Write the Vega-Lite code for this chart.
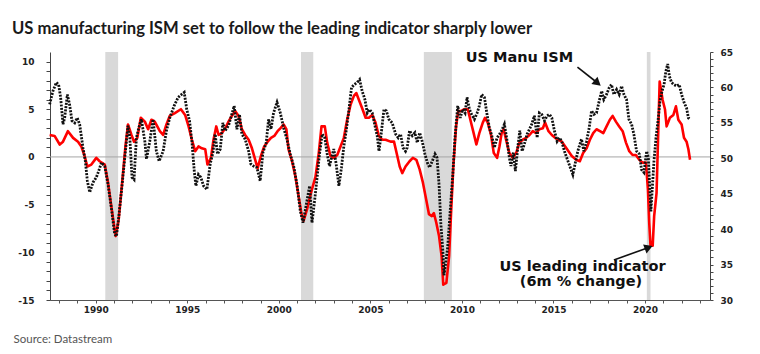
{
  "$schema": "https://vega.github.io/schema/vega-lite/v6.json",
  "width": 660,
  "height": 248,
  "autosize": {"type": "none"},
  "padding": {"left": 50, "top": 52, "right": 50, "bottom": 54},
  "background": "white",
  "title": {
    "text": "US manufacturing ISM set to follow the leading indicator sharply lower",
    "anchor": "start", "frame": "group", "dx": -38, "offset": -3, "baseline": "alphabetic",
    "font": "Lato", "fontSize": 16.6, "fontWeight": "bold", "color": "#1a1a1a"
  },
  "config": {
    "view": {"stroke": null},
    "axis": {"labelOverlap": false, "labelBound": false, "labelFlush": false, "grid": false}
  },
  "datasets": {
    "bands": [
      {"t": 1990.52, "t2": 1991.22},
      {"t": 2001.21, "t2": 2001.88},
      {"t": 2007.92, "t2": 2009.45},
      {"t": 2020.1, "t2": 2020.3}
    ],
    "zero": [{"v": 0}],
    "lei": [
      {"t": 1987.48, "v": 2.3}, {"t": 1987.75, "v": 2.2}, {"t": 1988.03, "v": 1.3}, {"t": 1988.21, "v": 1.6},
      {"t": 1988.48, "v": 2.7}, {"t": 1988.76, "v": 2.0}, {"t": 1989.03, "v": 1.6}, {"t": 1989.21, "v": 1.1},
      {"t": 1989.39, "v": 0.1}, {"t": 1989.54, "v": -1.0}, {"t": 1989.76, "v": -0.8}, {"t": 1990.03, "v": -0.1},
      {"t": 1990.21, "v": -0.45}, {"t": 1990.49, "v": -0.8}, {"t": 1990.67, "v": -2.7}, {"t": 1990.85, "v": -5.2},
      {"t": 1991.03, "v": -7.6}, {"t": 1991.09, "v": -8.3}, {"t": 1991.25, "v": -6.6}, {"t": 1991.44, "v": -2.7},
      {"t": 1991.62, "v": 1.1}, {"t": 1991.76, "v": 3.4}, {"t": 1991.95, "v": 2.3}, {"t": 1992.09, "v": 1.6},
      {"t": 1992.27, "v": 2.0}, {"t": 1992.46, "v": 4.1}, {"t": 1992.68, "v": 3.7}, {"t": 1992.86, "v": 2.9},
      {"t": 1993.04, "v": 3.9}, {"t": 1993.22, "v": 3.7}, {"t": 1993.5, "v": 2.7}, {"t": 1993.68, "v": 2.3},
      {"t": 1993.86, "v": 3.4}, {"t": 1994.04, "v": 4.3}, {"t": 1994.32, "v": 4.6}, {"t": 1994.65, "v": 5.0},
      {"t": 1994.88, "v": 4.4}, {"t": 1995.07, "v": 3.2}, {"t": 1995.25, "v": 1.8}, {"t": 1995.43, "v": 0.6},
      {"t": 1995.61, "v": 1.1}, {"t": 1995.79, "v": 0.9}, {"t": 1995.98, "v": 0.8}, {"t": 1996.1, "v": -0.8},
      {"t": 1996.29, "v": -0.1}, {"t": 1996.43, "v": 1.8}, {"t": 1996.58, "v": 3.2}, {"t": 1996.71, "v": 2.3},
      {"t": 1996.89, "v": 2.5}, {"t": 1997.07, "v": 3.0}, {"t": 1997.25, "v": 3.7}, {"t": 1997.43, "v": 4.3},
      {"t": 1997.62, "v": 4.8}, {"t": 1997.8, "v": 4.3}, {"t": 1997.98, "v": 2.9}, {"t": 1998.16, "v": 2.3},
      {"t": 1998.35, "v": 1.8}, {"t": 1998.53, "v": 0.9}, {"t": 1998.71, "v": -0.3}, {"t": 1998.84, "v": -1.2},
      {"t": 1999.02, "v": 0.1}, {"t": 1999.2, "v": 1.1}, {"t": 1999.39, "v": 1.6}, {"t": 1999.57, "v": 2.0},
      {"t": 1999.75, "v": 2.2}, {"t": 1999.93, "v": 2.7}, {"t": 2000.08, "v": 3.0}, {"t": 2000.26, "v": 3.4},
      {"t": 2000.41, "v": 2.9}, {"t": 2000.53, "v": 0.8}, {"t": 2000.72, "v": -0.45}, {"t": 2000.9, "v": -2.0},
      {"t": 2001.08, "v": -4.1}, {"t": 2001.23, "v": -5.9}, {"t": 2001.35, "v": -6.7}, {"t": 2001.54, "v": -5.5},
      {"t": 2001.75, "v": -3.8}, {"t": 2002.0, "v": -2.1}, {"t": 2002.18, "v": 0.4}, {"t": 2002.33, "v": 3.2},
      {"t": 2002.51, "v": 3.2}, {"t": 2002.64, "v": 1.5}, {"t": 2002.82, "v": 0.1}, {"t": 2003.0, "v": -0.1},
      {"t": 2003.19, "v": 0.2}, {"t": 2003.37, "v": 1.1}, {"t": 2003.55, "v": 2.0}, {"t": 2003.73, "v": 3.9},
      {"t": 2003.92, "v": 5.5}, {"t": 2004.1, "v": 6.4}, {"t": 2004.23, "v": 6.7}, {"t": 2004.37, "v": 6.0},
      {"t": 2004.55, "v": 5.1}, {"t": 2004.74, "v": 4.1}, {"t": 2004.92, "v": 4.1}, {"t": 2005.1, "v": 4.4},
      {"t": 2005.28, "v": 3.6}, {"t": 2005.46, "v": 2.2}, {"t": 2005.65, "v": 1.8}, {"t": 2005.83, "v": 1.8},
      {"t": 2006.1, "v": 1.6}, {"t": 2006.29, "v": 1.6}, {"t": 2006.47, "v": 0.1}, {"t": 2006.6, "v": -1.0},
      {"t": 2006.74, "v": -1.7}, {"t": 2006.92, "v": -1.0}, {"t": 2007.14, "v": -0.45}, {"t": 2007.32, "v": -0.1},
      {"t": 2007.51, "v": -0.3}, {"t": 2007.69, "v": -1.3}, {"t": 2007.87, "v": -2.7}, {"t": 2008.05, "v": -4.5},
      {"t": 2008.2, "v": -6.0}, {"t": 2008.34, "v": -6.2}, {"t": 2008.47, "v": -5.9}, {"t": 2008.6, "v": -6.9},
      {"t": 2008.75, "v": -8.3}, {"t": 2008.89, "v": -10.4}, {"t": 2008.98, "v": -13.4}, {"t": 2009.15, "v": -13.2},
      {"t": 2009.3, "v": -10.4}, {"t": 2009.4, "v": -6.2}, {"t": 2009.53, "v": -1.0}, {"t": 2009.68, "v": 3.2},
      {"t": 2009.8, "v": 4.8}, {"t": 2009.95, "v": 4.8}, {"t": 2010.13, "v": 5.0}, {"t": 2010.32, "v": 5.0},
      {"t": 2010.46, "v": 3.9}, {"t": 2010.64, "v": 2.5}, {"t": 2010.79, "v": 1.3}, {"t": 2010.95, "v": 2.5},
      {"t": 2011.14, "v": 3.6}, {"t": 2011.26, "v": 4.1}, {"t": 2011.41, "v": 3.6}, {"t": 2011.59, "v": 2.3},
      {"t": 2011.74, "v": 0.4}, {"t": 2011.92, "v": -0.1}, {"t": 2012.05, "v": 1.1}, {"t": 2012.17, "v": 2.5},
      {"t": 2012.28, "v": 2.9}, {"t": 2012.41, "v": 1.8}, {"t": 2012.59, "v": 0.4}, {"t": 2012.78, "v": -0.1},
      {"t": 2012.96, "v": 0.4}, {"t": 2013.14, "v": 1.5}, {"t": 2013.32, "v": 1.8}, {"t": 2013.51, "v": 2.0},
      {"t": 2013.69, "v": 2.3}, {"t": 2013.87, "v": 2.7}, {"t": 2014.05, "v": 2.5}, {"t": 2014.23, "v": 2.9},
      {"t": 2014.42, "v": 3.0}, {"t": 2014.54, "v": 3.6}, {"t": 2014.73, "v": 2.7}, {"t": 2014.91, "v": 2.3},
      {"t": 2015.09, "v": 2.0}, {"t": 2015.27, "v": 1.8}, {"t": 2015.46, "v": 1.6}, {"t": 2015.64, "v": 1.1},
      {"t": 2015.82, "v": 0.6}, {"t": 2016.0, "v": 0.1}, {"t": 2016.24, "v": -0.3}, {"t": 2016.44, "v": -0.45},
      {"t": 2016.62, "v": 0.4}, {"t": 2016.81, "v": 0.9}, {"t": 2016.99, "v": 1.8}, {"t": 2017.17, "v": 2.5},
      {"t": 2017.35, "v": 2.9}, {"t": 2017.54, "v": 2.7}, {"t": 2017.72, "v": 2.5}, {"t": 2017.9, "v": 3.2},
      {"t": 2018.08, "v": 3.9}, {"t": 2018.23, "v": 4.3}, {"t": 2018.41, "v": 3.7}, {"t": 2018.59, "v": 3.2},
      {"t": 2018.78, "v": 2.7}, {"t": 2018.96, "v": 1.5}, {"t": 2019.14, "v": 0.6}, {"t": 2019.32, "v": 0.2},
      {"t": 2019.5, "v": 0.2}, {"t": 2019.69, "v": -0.3}, {"t": 2019.87, "v": -0.6}, {"t": 2020.05, "v": -0.6},
      {"t": 2020.16, "v": -3.4}, {"t": 2020.23, "v": -6.9}, {"t": 2020.3, "v": -9.3}, {"t": 2020.42, "v": -9.3},
      {"t": 2020.5, "v": -6.2}, {"t": 2020.63, "v": -3.8}, {"t": 2020.8, "v": 7.9}, {"t": 2020.96, "v": 6.0},
      {"t": 2021.09, "v": 5.0}, {"t": 2021.18, "v": 3.2}, {"t": 2021.36, "v": 4.1}, {"t": 2021.55, "v": 4.4},
      {"t": 2021.69, "v": 5.3}, {"t": 2021.82, "v": 3.9}, {"t": 2022.0, "v": 3.4}, {"t": 2022.13, "v": 2.0},
      {"t": 2022.27, "v": 1.6}, {"t": 2022.37, "v": 0.8}, {"t": 2022.46, "v": -0.3}
    ],
    "ism": [
      {"t": 1987.48, "v": 57.6}, {"t": 1987.66, "v": 59.5}, {"t": 1987.85, "v": 60.7}, {"t": 1987.97, "v": 60.4},
      {"t": 1988.08, "v": 58.6}, {"t": 1988.21, "v": 54.8}, {"t": 1988.3, "v": 55.7}, {"t": 1988.45, "v": 59.0},
      {"t": 1988.57, "v": 57.6}, {"t": 1988.7, "v": 55.3}, {"t": 1988.85, "v": 55.0}, {"t": 1988.99, "v": 55.7},
      {"t": 1989.12, "v": 54.8}, {"t": 1989.3, "v": 51.5}, {"t": 1989.43, "v": 49.6}, {"t": 1989.54, "v": 46.8},
      {"t": 1989.67, "v": 45.2}, {"t": 1989.85, "v": 46.6}, {"t": 1990.03, "v": 47.3}, {"t": 1990.16, "v": 48.2},
      {"t": 1990.31, "v": 49.4}, {"t": 1990.49, "v": 48.9}, {"t": 1990.67, "v": 46.3}, {"t": 1990.85, "v": 43.0},
      {"t": 1991.03, "v": 39.3}, {"t": 1991.13, "v": 39.0}, {"t": 1991.25, "v": 41.6}, {"t": 1991.44, "v": 46.3},
      {"t": 1991.62, "v": 51.0}, {"t": 1991.76, "v": 54.6}, {"t": 1991.86, "v": 52.9}, {"t": 1991.98, "v": 47.3},
      {"t": 1992.09, "v": 47.0}, {"t": 1992.22, "v": 52.9}, {"t": 1992.35, "v": 54.3}, {"t": 1992.49, "v": 55.5},
      {"t": 1992.68, "v": 52.4}, {"t": 1992.77, "v": 49.9}, {"t": 1992.95, "v": 52.4}, {"t": 1993.13, "v": 55.5},
      {"t": 1993.31, "v": 51.0}, {"t": 1993.46, "v": 49.6}, {"t": 1993.68, "v": 51.0}, {"t": 1993.86, "v": 53.9},
      {"t": 1994.04, "v": 55.7}, {"t": 1994.28, "v": 57.4}, {"t": 1994.5, "v": 58.6}, {"t": 1994.68, "v": 59.0},
      {"t": 1994.83, "v": 59.3}, {"t": 1994.97, "v": 56.9}, {"t": 1995.12, "v": 55.3}, {"t": 1995.25, "v": 52.4},
      {"t": 1995.38, "v": 48.2}, {"t": 1995.47, "v": 46.1}, {"t": 1995.61, "v": 47.7}, {"t": 1995.74, "v": 47.3},
      {"t": 1995.89, "v": 46.1}, {"t": 1996.07, "v": 45.6}, {"t": 1996.25, "v": 49.2}, {"t": 1996.4, "v": 50.8},
      {"t": 1996.52, "v": 53.4}, {"t": 1996.65, "v": 50.6}, {"t": 1996.8, "v": 51.3}, {"t": 1996.94, "v": 55.0},
      {"t": 1997.07, "v": 53.9}, {"t": 1997.25, "v": 54.6}, {"t": 1997.43, "v": 56.2}, {"t": 1997.56, "v": 57.4},
      {"t": 1997.71, "v": 54.1}, {"t": 1997.85, "v": 56.2}, {"t": 1997.98, "v": 53.4}, {"t": 1998.16, "v": 52.7},
      {"t": 1998.35, "v": 51.0}, {"t": 1998.47, "v": 49.2}, {"t": 1998.62, "v": 48.9}, {"t": 1998.8, "v": 48.7},
      {"t": 1998.98, "v": 46.8}, {"t": 1999.13, "v": 50.8}, {"t": 1999.31, "v": 52.2}, {"t": 1999.44, "v": 55.5},
      {"t": 1999.57, "v": 54.1}, {"t": 1999.71, "v": 56.4}, {"t": 1999.9, "v": 57.9}, {"t": 2000.08, "v": 56.4},
      {"t": 2000.26, "v": 54.3}, {"t": 2000.44, "v": 52.7}, {"t": 2000.62, "v": 50.6}, {"t": 2000.81, "v": 48.9},
      {"t": 2000.99, "v": 46.3}, {"t": 2001.17, "v": 42.6}, {"t": 2001.32, "v": 40.9}, {"t": 2001.5, "v": 43.5},
      {"t": 2001.68, "v": 46.1}, {"t": 2001.81, "v": 40.9}, {"t": 2001.97, "v": 44.4}, {"t": 2002.09, "v": 47.3},
      {"t": 2002.22, "v": 50.6}, {"t": 2002.37, "v": 53.4}, {"t": 2002.51, "v": 52.9}, {"t": 2002.64, "v": 50.6},
      {"t": 2002.77, "v": 48.9}, {"t": 2002.88, "v": 50.1}, {"t": 2003.0, "v": 51.3}, {"t": 2003.13, "v": 49.2},
      {"t": 2003.28, "v": 46.1}, {"t": 2003.42, "v": 48.7}, {"t": 2003.55, "v": 51.7}, {"t": 2003.68, "v": 53.9},
      {"t": 2003.82, "v": 56.7}, {"t": 2003.97, "v": 60.0}, {"t": 2004.12, "v": 60.4}, {"t": 2004.28, "v": 60.7},
      {"t": 2004.41, "v": 61.1}, {"t": 2004.55, "v": 59.5}, {"t": 2004.7, "v": 58.3}, {"t": 2004.83, "v": 56.4},
      {"t": 2004.95, "v": 56.9}, {"t": 2005.1, "v": 56.4}, {"t": 2005.25, "v": 54.6}, {"t": 2005.37, "v": 53.2},
      {"t": 2005.47, "v": 51.0}, {"t": 2005.61, "v": 53.9}, {"t": 2005.74, "v": 56.9}, {"t": 2005.87, "v": 56.7},
      {"t": 2006.01, "v": 55.5}, {"t": 2006.19, "v": 55.0}, {"t": 2006.38, "v": 53.4}, {"t": 2006.52, "v": 52.9},
      {"t": 2006.65, "v": 53.4}, {"t": 2006.78, "v": 51.5}, {"t": 2006.92, "v": 51.0}, {"t": 2007.01, "v": 51.5},
      {"t": 2007.14, "v": 53.9}, {"t": 2007.29, "v": 53.2}, {"t": 2007.43, "v": 53.6}, {"t": 2007.56, "v": 52.2},
      {"t": 2007.69, "v": 53.6}, {"t": 2007.83, "v": 52.4}, {"t": 2007.98, "v": 50.6}, {"t": 2008.11, "v": 49.4},
      {"t": 2008.23, "v": 48.7}, {"t": 2008.38, "v": 49.6}, {"t": 2008.53, "v": 50.6}, {"t": 2008.64, "v": 50.1},
      {"t": 2008.75, "v": 46.3}, {"t": 2008.85, "v": 40.7}, {"t": 2008.96, "v": 36.9}, {"t": 2009.02, "v": 33.5},
      {"t": 2009.1, "v": 35.0}, {"t": 2009.22, "v": 37.4}, {"t": 2009.37, "v": 43.0}, {"t": 2009.5, "v": 47.7},
      {"t": 2009.62, "v": 52.9}, {"t": 2009.77, "v": 57.4}, {"t": 2009.91, "v": 55.7}, {"t": 2010.04, "v": 56.9},
      {"t": 2010.17, "v": 56.4}, {"t": 2010.28, "v": 58.6}, {"t": 2010.41, "v": 56.9}, {"t": 2010.53, "v": 56.2},
      {"t": 2010.68, "v": 55.5}, {"t": 2010.83, "v": 56.4}, {"t": 2010.95, "v": 57.4}, {"t": 2011.08, "v": 59.0},
      {"t": 2011.23, "v": 58.6}, {"t": 2011.37, "v": 56.2}, {"t": 2011.5, "v": 54.3}, {"t": 2011.63, "v": 53.2},
      {"t": 2011.77, "v": 51.5}, {"t": 2011.92, "v": 52.9}, {"t": 2012.05, "v": 53.4}, {"t": 2012.17, "v": 53.9},
      {"t": 2012.32, "v": 54.8}, {"t": 2012.47, "v": 52.4}, {"t": 2012.59, "v": 50.1}, {"t": 2012.68, "v": 48.9},
      {"t": 2012.81, "v": 50.8}, {"t": 2012.92, "v": 48.2}, {"t": 2013.05, "v": 51.5}, {"t": 2013.16, "v": 53.9},
      {"t": 2013.29, "v": 51.0}, {"t": 2013.41, "v": 52.0}, {"t": 2013.56, "v": 53.4}, {"t": 2013.69, "v": 54.1},
      {"t": 2013.81, "v": 54.8}, {"t": 2013.96, "v": 56.0}, {"t": 2014.11, "v": 52.9}, {"t": 2014.23, "v": 56.4},
      {"t": 2014.36, "v": 56.2}, {"t": 2014.51, "v": 55.3}, {"t": 2014.65, "v": 56.0}, {"t": 2014.78, "v": 56.2},
      {"t": 2014.91, "v": 55.7}, {"t": 2015.05, "v": 53.9}, {"t": 2015.2, "v": 52.4}, {"t": 2015.33, "v": 52.9},
      {"t": 2015.45, "v": 52.4}, {"t": 2015.6, "v": 51.0}, {"t": 2015.75, "v": 49.9}, {"t": 2015.89, "v": 48.9},
      {"t": 2016.06, "v": 47.7}, {"t": 2016.18, "v": 49.2}, {"t": 2016.33, "v": 51.0}, {"t": 2016.41, "v": 51.7},
      {"t": 2016.53, "v": 52.7}, {"t": 2016.66, "v": 51.0}, {"t": 2016.81, "v": 52.4}, {"t": 2016.95, "v": 54.3},
      {"t": 2017.08, "v": 56.7}, {"t": 2017.21, "v": 56.2}, {"t": 2017.35, "v": 56.4}, {"t": 2017.5, "v": 58.1},
      {"t": 2017.63, "v": 59.5}, {"t": 2017.75, "v": 58.3}, {"t": 2017.9, "v": 59.0}, {"t": 2018.05, "v": 60.0},
      {"t": 2018.17, "v": 60.4}, {"t": 2018.3, "v": 59.0}, {"t": 2018.45, "v": 59.7}, {"t": 2018.59, "v": 59.0},
      {"t": 2018.72, "v": 60.2}, {"t": 2018.85, "v": 59.0}, {"t": 2018.99, "v": 58.3}, {"t": 2019.12, "v": 55.5},
      {"t": 2019.27, "v": 54.8}, {"t": 2019.39, "v": 53.4}, {"t": 2019.54, "v": 51.0}, {"t": 2019.69, "v": 50.6},
      {"t": 2019.81, "v": 48.4}, {"t": 2019.94, "v": 48.0}, {"t": 2020.09, "v": 51.0}, {"t": 2020.18, "v": 50.1},
      {"t": 2020.25, "v": 46.3}, {"t": 2020.32, "v": 42.5}, {"t": 2020.49, "v": 49.6}, {"t": 2020.6, "v": 52.9},
      {"t": 2020.71, "v": 55.3}, {"t": 2020.82, "v": 58.1}, {"t": 2020.93, "v": 59.5}, {"t": 2021.04, "v": 60.4},
      {"t": 2021.14, "v": 62.3}, {"t": 2021.24, "v": 63.3}, {"t": 2021.33, "v": 61.6}, {"t": 2021.45, "v": 60.7},
      {"t": 2021.58, "v": 60.4}, {"t": 2021.73, "v": 60.2}, {"t": 2021.87, "v": 60.4}, {"t": 2022.0, "v": 59.0},
      {"t": 2022.13, "v": 57.9}, {"t": 2022.27, "v": 57.1}, {"t": 2022.37, "v": 55.7}, {"t": 2022.46, "v": 55.5}
    ],
    "labels": [
      {"t": 2013.14, "v": 10.35, "label": "US Manu ISM"},
      {"t": 2016.59, "v": -11.5, "label": "US leading indicator"},
      {"t": 2016.5, "v": -13.1, "label": "(6m % change)"}
    ],
    "arrows": [
      {"id": "ism", "t": 2016.31, "v": 9.42, "t2": 2017.41, "v2": 7.75},
      {"id": "lei", "t": 2018.3, "v": -10.8, "t2": 2020.2, "v2": -9.5}
    ]
  },
  "layer": [
    {
      "layer": [
        {
          "data": {"name": "bands"},
          "mark": {"type": "rect", "color": "#d9d9d9"},
          "encoding": {
            "x": {
              "field": "t", "type": "quantitative", "title": "Source: Datastream",
              "scale": {"domain": [1987.5, 2023.55], "nice": false, "zero": false},
              "axis": {
                "values": [1988, 1989, 1990, 1991, 1992, 1993, 1994, 1995, 1996, 1997, 1998, 1999, 2000, 2001, 2002, 2003, 2004, 2005, 2006, 2007, 2008, 2009, 2010, 2011, 2012, 2013, 2014, 2015, 2016, 2017, 2018, 2019, 2020, 2021, 2022, 2023],
                "labelExpr": "datum.value % 5 === 0 ? '' + datum.value : ''",
                "labelOverlap": false, "labelBound": false, "labelFlush": false,
                "tickSize": 3, "tickColor": "#555", "domainColor": "#555",
                "labelFont": "DejaVu Sans", "labelFontWeight": "bold", "labelFontSize": 9, "labelColor": "#222", "labelPadding": 2,
                "titleFont": "Lato", "titleFontSize": 11.5, "titleFontWeight": "normal", "titleColor": "#555",
                "titleAnchor": "start", "titleAlign": "left", "titleX": -37, "titleY": 42, "titleBaseline": "alphabetic"
              }
            },
            "x2": {"field": "t2"}
          }
        },
        {
          "data": {"name": "zero"},
          "mark": {"type": "rule", "color": "#a6a6a6", "strokeWidth": 1},
          "encoding": {
            "y": {
              "field": "v", "type": "quantitative", "title": null,
              "scale": {"domain": [-15, 11], "nice": false, "zero": false},
              "axis": {
                "values": [-15, -14, -13, -12, -11, -10, -9, -8, -7, -6, -5, -4, -3, -2, -1, 0, 1, 2, 3, 4, 5, 6, 7, 8, 9, 10],
                "labelExpr": "datum.value % 5 === 0 ? '' + datum.value : ''",
                "labelOverlap": false, "labelBound": false, "labelFlush": false,
                "tickSize": 4, "tickColor": "#444", "domainColor": "#444",
                "labelFont": "DejaVu Sans", "labelFontWeight": "bold", "labelFontSize": 9, "labelColor": "#222", "labelPadding": 12
              }
            }
          }
        },
        {
          "data": {"name": "lei"},
          "mark": {"type": "line", "color": "#ff0000", "strokeWidth": 2.6, "strokeJoin": "round"},
          "encoding": {
            "x": {
              "field": "t", "type": "quantitative", "title": "Source: Datastream",
              "scale": {"domain": [1987.5, 2023.55], "nice": false, "zero": false},
              "axis": {
                "values": [1988, 1989, 1990, 1991, 1992, 1993, 1994, 1995, 1996, 1997, 1998, 1999, 2000, 2001, 2002, 2003, 2004, 2005, 2006, 2007, 2008, 2009, 2010, 2011, 2012, 2013, 2014, 2015, 2016, 2017, 2018, 2019, 2020, 2021, 2022, 2023],
                "labelExpr": "datum.value % 5 === 0 ? '' + datum.value : ''",
                "labelOverlap": false, "labelBound": false, "labelFlush": false,
                "tickSize": 3, "tickColor": "#555", "domainColor": "#555",
                "labelFont": "DejaVu Sans", "labelFontWeight": "bold", "labelFontSize": 9, "labelColor": "#222", "labelPadding": 2,
                "titleFont": "Lato", "titleFontSize": 11.5, "titleFontWeight": "normal", "titleColor": "#555",
                "titleAnchor": "start", "titleAlign": "left", "titleX": -37, "titleY": 42, "titleBaseline": "alphabetic"
              }
            },
            "y": {
              "field": "v", "type": "quantitative", "title": null,
              "scale": {"domain": [-15, 11], "nice": false, "zero": false},
              "axis": {
                "values": [-15, -14, -13, -12, -11, -10, -9, -8, -7, -6, -5, -4, -3, -2, -1, 0, 1, 2, 3, 4, 5, 6, 7, 8, 9, 10],
                "labelExpr": "datum.value % 5 === 0 ? '' + datum.value : ''",
                "labelOverlap": false, "labelBound": false, "labelFlush": false,
                "tickSize": 4, "tickColor": "#444", "domainColor": "#444",
                "labelFont": "DejaVu Sans", "labelFontWeight": "bold", "labelFontSize": 9, "labelColor": "#222", "labelPadding": 12
              }
            }
          }
        },
        {
          "data": {"name": "labels"},
          "mark": {"type": "text", "font": "DejaVu Sans", "fontWeight": "bold", "fontSize": 14.5, "color": "#111", "align": "center", "baseline": "middle"},
          "encoding": {
            "x": {
              "field": "t", "type": "quantitative", "title": "Source: Datastream",
              "scale": {"domain": [1987.5, 2023.55], "nice": false, "zero": false},
              "axis": {
                "values": [1988, 1989, 1990, 1991, 1992, 1993, 1994, 1995, 1996, 1997, 1998, 1999, 2000, 2001, 2002, 2003, 2004, 2005, 2006, 2007, 2008, 2009, 2010, 2011, 2012, 2013, 2014, 2015, 2016, 2017, 2018, 2019, 2020, 2021, 2022, 2023],
                "labelExpr": "datum.value % 5 === 0 ? '' + datum.value : ''",
                "labelOverlap": false, "labelBound": false, "labelFlush": false,
                "tickSize": 3, "tickColor": "#555", "domainColor": "#555",
                "labelFont": "DejaVu Sans", "labelFontWeight": "bold", "labelFontSize": 9, "labelColor": "#222", "labelPadding": 2,
                "titleFont": "Lato", "titleFontSize": 11.5, "titleFontWeight": "normal", "titleColor": "#555",
                "titleAnchor": "start", "titleAlign": "left", "titleX": -37, "titleY": 42, "titleBaseline": "alphabetic"
              }
            },
            "y": {
              "field": "v", "type": "quantitative", "title": null,
              "scale": {"domain": [-15, 11], "nice": false, "zero": false},
              "axis": {
                "values": [-15, -14, -13, -12, -11, -10, -9, -8, -7, -6, -5, -4, -3, -2, -1, 0, 1, 2, 3, 4, 5, 6, 7, 8, 9, 10],
                "labelExpr": "datum.value % 5 === 0 ? '' + datum.value : ''",
                "labelOverlap": false, "labelBound": false, "labelFlush": false,
                "tickSize": 4, "tickColor": "#444", "domainColor": "#444",
                "labelFont": "DejaVu Sans", "labelFontWeight": "bold", "labelFontSize": 9, "labelColor": "#222", "labelPadding": 12
              }
            },
            "text": {"field": "label"}
          }
        },
        {
          "data": {"name": "arrows"},
          "mark": {"type": "rule", "color": "#111", "strokeWidth": 1.6},
          "encoding": {
            "x": {
              "field": "t", "type": "quantitative", "title": "Source: Datastream",
              "scale": {"domain": [1987.5, 2023.55], "nice": false, "zero": false},
              "axis": {
                "values": [1988, 1989, 1990, 1991, 1992, 1993, 1994, 1995, 1996, 1997, 1998, 1999, 2000, 2001, 2002, 2003, 2004, 2005, 2006, 2007, 2008, 2009, 2010, 2011, 2012, 2013, 2014, 2015, 2016, 2017, 2018, 2019, 2020, 2021, 2022, 2023],
                "labelExpr": "datum.value % 5 === 0 ? '' + datum.value : ''",
                "labelOverlap": false, "labelBound": false, "labelFlush": false,
                "tickSize": 3, "tickColor": "#555", "domainColor": "#555",
                "labelFont": "DejaVu Sans", "labelFontWeight": "bold", "labelFontSize": 9, "labelColor": "#222", "labelPadding": 2,
                "titleFont": "Lato", "titleFontSize": 11.5, "titleFontWeight": "normal", "titleColor": "#555",
                "titleAnchor": "start", "titleAlign": "left", "titleX": -37, "titleY": 42, "titleBaseline": "alphabetic"
              }
            },
            "y": {
              "field": "v", "type": "quantitative", "title": null,
              "scale": {"domain": [-15, 11], "nice": false, "zero": false},
              "axis": {
                "values": [-15, -14, -13, -12, -11, -10, -9, -8, -7, -6, -5, -4, -3, -2, -1, 0, 1, 2, 3, 4, 5, 6, 7, 8, 9, 10],
                "labelExpr": "datum.value % 5 === 0 ? '' + datum.value : ''",
                "labelOverlap": false, "labelBound": false, "labelFlush": false,
                "tickSize": 4, "tickColor": "#444", "domainColor": "#444",
                "labelFont": "DejaVu Sans", "labelFontWeight": "bold", "labelFontSize": 9, "labelColor": "#222", "labelPadding": 12
              }
            },
            "x2": {"field": "t2"},
            "y2": {"field": "v2"}
          }
        },
        {
          "data": {"name": "arrows"},
          "transform": [{"filter": "datum.id === 'ism'"}],
          "mark": {"type": "point", "shape": "triangle-right", "filled": true, "color": "#111", "size": 90, "angle": 40, "opacity": 1},
          "encoding": {
            "x": {
              "field": "t2", "type": "quantitative", "title": "Source: Datastream",
              "scale": {"domain": [1987.5, 2023.55], "nice": false, "zero": false},
              "axis": {
                "values": [1988, 1989, 1990, 1991, 1992, 1993, 1994, 1995, 1996, 1997, 1998, 1999, 2000, 2001, 2002, 2003, 2004, 2005, 2006, 2007, 2008, 2009, 2010, 2011, 2012, 2013, 2014, 2015, 2016, 2017, 2018, 2019, 2020, 2021, 2022, 2023],
                "labelExpr": "datum.value % 5 === 0 ? '' + datum.value : ''",
                "labelOverlap": false, "labelBound": false, "labelFlush": false,
                "tickSize": 3, "tickColor": "#555", "domainColor": "#555",
                "labelFont": "DejaVu Sans", "labelFontWeight": "bold", "labelFontSize": 9, "labelColor": "#222", "labelPadding": 2,
                "titleFont": "Lato", "titleFontSize": 11.5, "titleFontWeight": "normal", "titleColor": "#555",
                "titleAnchor": "start", "titleAlign": "left", "titleX": -37, "titleY": 42, "titleBaseline": "alphabetic"
              }
            },
            "y": {
              "field": "v2", "type": "quantitative", "title": null,
              "scale": {"domain": [-15, 11], "nice": false, "zero": false},
              "axis": {
                "values": [-15, -14, -13, -12, -11, -10, -9, -8, -7, -6, -5, -4, -3, -2, -1, 0, 1, 2, 3, 4, 5, 6, 7, 8, 9, 10],
                "labelExpr": "datum.value % 5 === 0 ? '' + datum.value : ''",
                "labelOverlap": false, "labelBound": false, "labelFlush": false,
                "tickSize": 4, "tickColor": "#444", "domainColor": "#444",
                "labelFont": "DejaVu Sans", "labelFontWeight": "bold", "labelFontSize": 9, "labelColor": "#222", "labelPadding": 12
              }
            }
          }
        },
        {
          "data": {"name": "arrows"},
          "transform": [{"filter": "datum.id === 'lei'"}],
          "mark": {"type": "point", "shape": "triangle-right", "filled": true, "color": "#111", "size": 90, "angle": -21, "opacity": 1},
          "encoding": {
            "x": {
              "field": "t2", "type": "quantitative", "title": "Source: Datastream",
              "scale": {"domain": [1987.5, 2023.55], "nice": false, "zero": false},
              "axis": {
                "values": [1988, 1989, 1990, 1991, 1992, 1993, 1994, 1995, 1996, 1997, 1998, 1999, 2000, 2001, 2002, 2003, 2004, 2005, 2006, 2007, 2008, 2009, 2010, 2011, 2012, 2013, 2014, 2015, 2016, 2017, 2018, 2019, 2020, 2021, 2022, 2023],
                "labelExpr": "datum.value % 5 === 0 ? '' + datum.value : ''",
                "labelOverlap": false, "labelBound": false, "labelFlush": false,
                "tickSize": 3, "tickColor": "#555", "domainColor": "#555",
                "labelFont": "DejaVu Sans", "labelFontWeight": "bold", "labelFontSize": 9, "labelColor": "#222", "labelPadding": 2,
                "titleFont": "Lato", "titleFontSize": 11.5, "titleFontWeight": "normal", "titleColor": "#555",
                "titleAnchor": "start", "titleAlign": "left", "titleX": -37, "titleY": 42, "titleBaseline": "alphabetic"
              }
            },
            "y": {
              "field": "v2", "type": "quantitative", "title": null,
              "scale": {"domain": [-15, 11], "nice": false, "zero": false},
              "axis": {
                "values": [-15, -14, -13, -12, -11, -10, -9, -8, -7, -6, -5, -4, -3, -2, -1, 0, 1, 2, 3, 4, 5, 6, 7, 8, 9, 10],
                "labelExpr": "datum.value % 5 === 0 ? '' + datum.value : ''",
                "labelOverlap": false, "labelBound": false, "labelFlush": false,
                "tickSize": 4, "tickColor": "#444", "domainColor": "#444",
                "labelFont": "DejaVu Sans", "labelFontWeight": "bold", "labelFontSize": 9, "labelColor": "#222", "labelPadding": 12
              }
            }
          }
        }
      ]
    },
    {
      "data": {"name": "ism"},
      "mark": {"type": "line", "color": "#111", "strokeWidth": 2.8, "strokeDash": [2, 1.3]},
      "encoding": {
        "x": {
          "field": "t", "type": "quantitative", "title": "Source: Datastream",
          "scale": {"domain": [1987.5, 2023.55], "nice": false, "zero": false},
          "axis": {
            "values": [1988, 1989, 1990, 1991, 1992, 1993, 1994, 1995, 1996, 1997, 1998, 1999, 2000, 2001, 2002, 2003, 2004, 2005, 2006, 2007, 2008, 2009, 2010, 2011, 2012, 2013, 2014, 2015, 2016, 2017, 2018, 2019, 2020, 2021, 2022, 2023],
            "labelExpr": "datum.value % 5 === 0 ? '' + datum.value : ''",
            "labelOverlap": false, "labelBound": false, "labelFlush": false,
            "tickSize": 3, "tickColor": "#555", "domainColor": "#555",
            "labelFont": "DejaVu Sans", "labelFontWeight": "bold", "labelFontSize": 9, "labelColor": "#222", "labelPadding": 2,
            "titleFont": "Lato", "titleFontSize": 11.5, "titleFontWeight": "normal", "titleColor": "#555",
            "titleAnchor": "start", "titleAlign": "left", "titleX": -37, "titleY": 42, "titleBaseline": "alphabetic"
          }
        },
        "y": {
          "field": "v", "type": "quantitative", "title": null,
          "scale": {"domain": [30, 65], "nice": false, "zero": false},
          "axis": {
            "orient": "right",
            "values": [30, 31, 32, 33, 34, 35, 36, 37, 38, 39, 40, 41, 42, 43, 44, 45, 46, 47, 48, 49, 50, 51, 52, 53, 54, 55, 56, 57, 58, 59, 60, 61, 62, 63, 64, 65],
            "labelExpr": "datum.value % 5 === 0 ? '' + datum.value : ''",
            "labelOverlap": false, "labelBound": false, "labelFlush": false,
            "tickSize": 3, "tickColor": "#444", "domainColor": "#444",
            "labelFont": "DejaVu Sans", "labelFontWeight": "bold", "labelFontSize": 9, "labelColor": "#222", "labelPadding": 7
          }
        }
      }
    }
  ],
  "resolve": {"scale": {"y": "independent"}, "axis": {"y": "independent"}}
}
